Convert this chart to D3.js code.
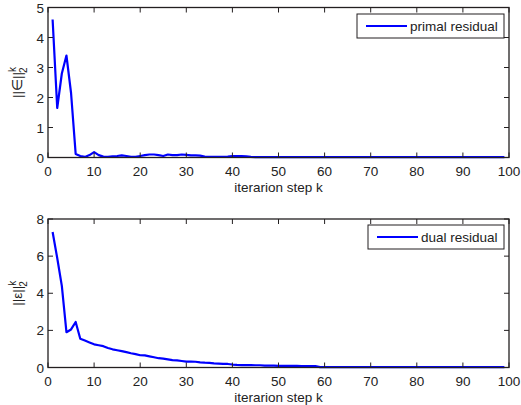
<!DOCTYPE html>
<html>
<head>
<meta charset="utf-8">
<script src="https://cdn.jsdelivr.net/npm/d3@7"></script>
<style>
  body { margin: 0; background: #fff; }
  text { font-family: "Liberation Sans", Arial, sans-serif; fill: #222; }
</style>
</head>
<body>
<svg width="521" height="405"></svg>
<script>
// iteration steps 1..99
var steps = d3.range(1, 100);

var primal = [4.6, 1.65, 2.8, 3.4, 2.15, 0.12, 0.05, 0.02, 0.08, 0.18,
  0.08, 0.03, 0.02, 0.04, 0.05, 0.07, 0.05, 0.02, 0.02, 0.05,
  0.08, 0.1, 0.1, 0.08, 0.05, 0.1, 0.08, 0.08, 0.1, 0.09,
  0.07, 0.07, 0.06, 0.03, 0.02, 0.02, 0.02, 0.02, 0.03, 0.05,
  0.05, 0.05, 0.04, 0.02, 0.01, 0.01, 0.01, 0.01, 0.01, 0.01,
  0.01, 0.01, 0.01, 0.01, 0.01, 0.01, 0.01, 0.01, 0.01, 0.01,
  0.01, 0.01, 0.01, 0.01, 0.01, 0.01, 0.01, 0.01, 0.01, 0.01,
  0.01, 0.01, 0.01, 0.01, 0.01, 0.01, 0.01, 0.01, 0.01, 0.01,
  0.01, 0.01, 0.01, 0.01, 0.01, 0.01, 0.01, 0.01, 0.01, 0.01,
  0.01, 0.01, 0.01, 0.01, 0.01, 0.01, 0.01, 0.01, 0.01];

var dual = [7.3, 5.9, 4.4, 1.9, 2.05, 2.45, 1.55, 1.45, 1.35, 1.25,
  1.2, 1.15, 1.05, 0.98, 0.93, 0.88, 0.83, 0.77, 0.72, 0.66,
  0.65, 0.6, 0.55, 0.5, 0.48, 0.44, 0.4, 0.38, 0.35, 0.32,
  0.32, 0.31, 0.28, 0.26, 0.25, 0.22, 0.21, 0.2, 0.19, 0.16,
  0.14, 0.13, 0.13, 0.13, 0.12, 0.12, 0.1, 0.1, 0.1, 0.09,
  0.09, 0.09, 0.09, 0.09, 0.08, 0.08, 0.08, 0.08, 0.02, 0.02,
  0.02, 0.02, 0.02, 0.02, 0.02, 0.02, 0.02, 0.02, 0.02, 0.02,
  0.02, 0.02, 0.02, 0.02, 0.02, 0.02, 0.02, 0.02, 0.02, 0.02,
  0.02, 0.02, 0.02, 0.02, 0.02, 0.02, 0.02, 0.02, 0.02, 0.02,
  0.02, 0.02, 0.02, 0.02, 0.02, 0.02, 0.02, 0.02, 0.02];

var xTicks = [0, 10, 20, 30, 40, 50, 60, 70, 80, 90, 100];
var primalTicks = [0, 1, 2, 3, 4, 5];
var dualTicks = [0, 2, 4, 6, 8];

var svg = d3.select("svg");
var left = 48, right = 509;
var x = d3.scaleLinear().domain([0, 100]).range([left, right]);

function panel(opt) {
  var y = d3.scaleLinear().domain(opt.ydomain).range([opt.bottom, opt.top]);
  var g = svg.append("g");
  var tl = 5;

  // data line
  var line = d3.line().x((d, i) => x(steps[i])).y(d => y(d));
  g.append("path")
    .datum(opt.values)
    .attr("d", line)
    .attr("fill", "none")
    .attr("stroke", "#0000ff")
    .attr("stroke-width", 2.2)
    .attr("stroke-linejoin", "round");

  // frame
  g.append("rect")
    .attr("x", left).attr("y", opt.top)
    .attr("width", right - left).attr("height", opt.bottom - opt.top)
    .attr("fill", "none").attr("stroke", "#231f20").attr("stroke-width", 1.3);

  // x ticks (inward, bottom and top)
  xTicks.forEach(function(t) {
    g.append("line").attr("x1", x(t)).attr("x2", x(t))
      .attr("y1", opt.bottom).attr("y2", opt.bottom - tl)
      .attr("stroke", "#231f20");
    g.append("line").attr("x1", x(t)).attr("x2", x(t))
      .attr("y1", opt.top).attr("y2", opt.top + tl)
      .attr("stroke", "#231f20");
    g.append("text").attr("x", x(t)).attr("y", opt.bottom + 18)
      .attr("text-anchor", "middle").attr("font-size", 13.5).text(t);
  });

  opt.yticks.forEach(function(t) {
    g.append("line").attr("x1", left).attr("x2", left + tl)
      .attr("y1", y(t)).attr("y2", y(t)).attr("stroke", "#231f20");
    g.append("line").attr("x1", right).attr("x2", right - tl)
      .attr("y1", y(t)).attr("y2", y(t)).attr("stroke", "#231f20");
    g.append("text").attr("x", left - 4).attr("y", y(t) + 5)
      .attr("text-anchor", "end").attr("font-size", 13.5).text(t);
  });

  // x label
  g.append("text").attr("x", (left + right) / 2).attr("y", opt.bottom + 34)
    .attr("text-anchor", "middle").attr("font-size", 13.5).text("iterarion step k");

  // y label
  var yl = g.append("text")
    .attr("transform", "translate(22," + ((opt.top + opt.bottom) / 2) + ") rotate(-90)")
    .attr("text-anchor", "middle").attr("font-size", 13.5);
  yl.append("tspan").text("||" + opt.sym + "||");
  yl.append("tspan").attr("font-size", 10).attr("dy", -6).text("k");
  yl.append("tspan").attr("font-size", 10).attr("dx", -6).attr("dy", 11).text("2");

  // legend
  var lg = opt.legend;
  g.append("rect").attr("x", lg.x).attr("y", lg.y)
    .attr("width", 504 - lg.x).attr("height", 24)
    .attr("fill", "#fff").attr("stroke", "#231f20").attr("stroke-width", 1);
  g.append("line").attr("x1", lg.x + 9).attr("x2", lg.x + 50)
    .attr("y1", lg.y + 12).attr("y2", lg.y + 12)
    .attr("stroke", "#0000ff").attr("stroke-width", 2.2);
  g.append("text").attr("x", lg.x + 53).attr("y", lg.y + 17)
    .attr("font-size", 13.5).text(opt.label);
}

panel({ values: primal, ydomain: [0, 5], yticks: primalTicks, top: 7.5, bottom: 157.5,
  sym: "\u2208", label: "primal residual", legend: { x: 357, y: 14 } });
panel({ values: dual, ydomain: [0, 8], yticks: dualTicks, top: 219, bottom: 367.5,
  sym: "\u03b5", label: "dual residual", legend: { x: 368, y: 225 } });
</script>
</body>
</html>
